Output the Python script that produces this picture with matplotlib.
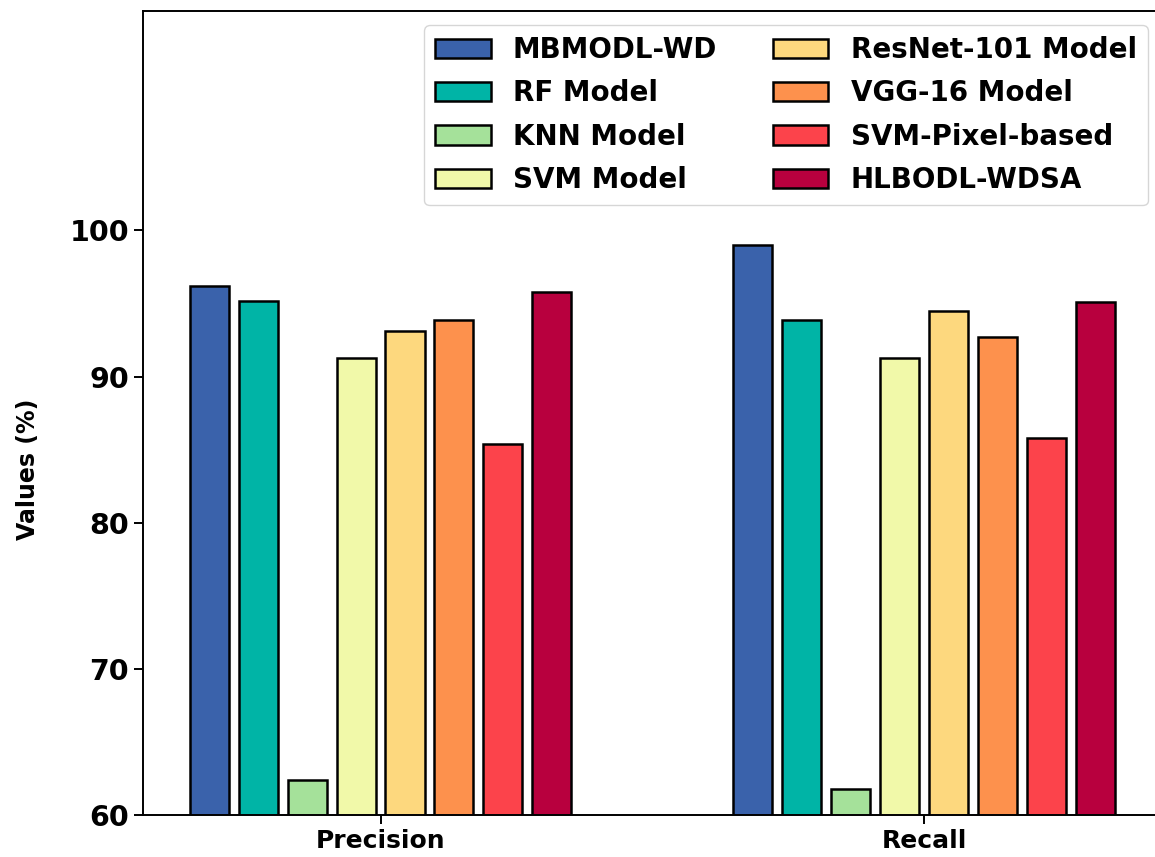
import numpy as np
import matplotlib.pyplot as plt

# data
metrics = ['Precision', 'Recall']
models = ['MBMODL-WD', 'RF Model', 'KNN Model', 'SVM Model',
          'ResNet-101 Model', 'VGG-16 Model', 'SVM-Pixel-based', 'HLBODL-WDSA']
precision = [96.2, 95.2, 62.4, 91.3, 93.1, 93.9, 85.4, 95.8]
recall = [99.0, 93.9, 61.8, 91.3, 94.5, 92.7, 85.8, 95.1]
colors = ['#3a62ab', '#00b4a6', '#a5e19a', '#f1f9a9',
          '#fdd87e', '#fd914d', '#fc434b', '#b8003e']

fig = plt.figure(figsize=(11.55, 8.57), dpi=100)
ax = fig.add_axes([0.1238, 0.049, 0.882, 0.938])

x = np.arange(len(metrics))
pitch = 0.09
width = 0.072
for i, name in enumerate(models):
    vals = [precision[i], recall[i]]
    ax.bar(x + (i - 3.5) * pitch, vals, width, color=colors[i],
           edgecolor='black', linewidth=1.8, label=name)

ax.set_xlim(-0.437, 1.437)
ax.set_ylim(60, 115)
ax.set_yticks([60, 70, 80, 90, 100])
ax.set_xticks(x)
ax.set_xticklabels(metrics, fontsize=18, fontweight='bold')
for lbl in ax.get_yticklabels():
    lbl.set_fontsize(20.5)
    lbl.set_fontweight('bold')
ax.tick_params(axis='both', length=6.5, width=1.4)
for s in ax.spines.values():
    s.set_linewidth(1.4)

ax.set_ylabel('Values (%)', fontsize=17, fontweight='bold')
ax.yaxis.set_label_coords(-0.101, 0.43)

ax.legend(loc='upper right', ncol=2, prop={'size': 20, 'weight': 'bold'},
          labelspacing=0.55)

fig.savefig('out.png', dpi=100)
